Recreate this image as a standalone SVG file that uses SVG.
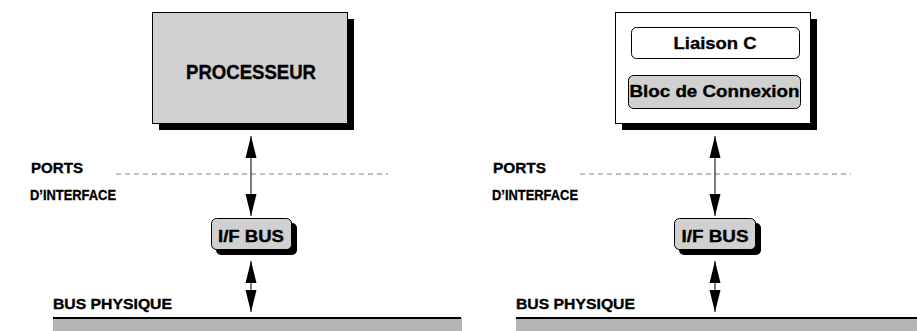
<svg xmlns="http://www.w3.org/2000/svg" width="917" height="331" viewBox="0 0 917 331">
<style>
text{font-family:"Liberation Sans",Arial,sans-serif;font-weight:bold;fill:#000;stroke:#000;stroke-width:0.35}
.box{stroke:#000;stroke-width:1}
.shadow{fill:#000}
.gray{fill:#d0d0d0}
.dash{stroke:#808080;stroke-width:1;stroke-dasharray:5 4;fill:none}
.arrow{stroke:#000;stroke-width:1;fill:none}
.bar{fill:#b4b4b4}
</style>
<defs>
<marker id="ah" viewBox="0 0 22 12" refX="22" refY="6" markerWidth="22" markerHeight="12" markerUnits="userSpaceOnUse" orient="auto-start-reverse">
<path d="M0,0.5 L22,6 L0,11.5 Z" fill="#000"/>
</marker>
</defs>

<g id="left-processeur">
<rect class="shadow" x="159" y="19" width="195" height="111"/>
<rect class="box gray" x="152.5" y="12.5" width="195" height="111"/>
<text x="251" y="78.5" font-size="19.5" text-anchor="middle" textLength="130" lengthAdjust="spacingAndGlyphs">PROCESSEUR</text>
</g>

<g id="left-labels">
<text x="31" y="173" font-size="15.5" textLength="52" lengthAdjust="spacingAndGlyphs">PORTS</text>
<text x="30" y="200" font-size="15.5" textLength="86" lengthAdjust="spacingAndGlyphs">D’INTERFACE</text>
<text x="53" y="309" font-size="15" textLength="119" lengthAdjust="spacingAndGlyphs">BUS PHYSIQUE</text>
</g>

<g id="left-ifbus">
<rect class="shadow" x="216" y="223" width="81" height="32" rx="5"/>
<rect class="box gray" x="211.5" y="218.5" width="80" height="31" rx="5"/>
<text x="251" y="242" font-size="16" text-anchor="middle" textLength="66" lengthAdjust="spacingAndGlyphs">I/F BUS</text>
</g>

<g id="left-bus">
<rect class="bar" x="53" y="318" width="409" height="13"/>
<line x1="53" y1="318" x2="461" y2="318" stroke="#000" stroke-width="2"/>
</g>

<g id="right-block">
<rect class="shadow" x="622" y="19" width="195" height="111"/>
<rect class="box" x="615.5" y="12.5" width="195" height="111" fill="#fff"/>
</g>
<g id="right-liaison">
<rect class="box" x="631.5" y="27.5" width="168" height="31" rx="5" fill="#fff"/>
<text x="715" y="49" font-size="16.5" text-anchor="middle" textLength="83" lengthAdjust="spacingAndGlyphs">Liaison C</text>
</g>
<g id="right-bloc">
<rect class="box gray" x="628.5" y="75.5" width="172" height="33" rx="5"/>
<text x="714.5" y="97" font-size="16.5" text-anchor="middle" textLength="170" lengthAdjust="spacingAndGlyphs">Bloc de Connexion</text>
</g>

<g id="right-labels">
<text x="493" y="173" font-size="15.5" textLength="53" lengthAdjust="spacingAndGlyphs">PORTS</text>
<text x="492" y="200" font-size="15.5" textLength="86" lengthAdjust="spacingAndGlyphs">D’INTERFACE</text>
<text x="516" y="309" font-size="15" textLength="119" lengthAdjust="spacingAndGlyphs">BUS PHYSIQUE</text>
</g>

<g id="right-ifbus">
<rect class="shadow" x="679" y="223" width="82" height="32" rx="5"/>
<rect class="box gray" x="674.5" y="218.5" width="81" height="31" rx="5"/>
<text x="715" y="242" font-size="16" text-anchor="middle" textLength="67" lengthAdjust="spacingAndGlyphs">I/F BUS</text>
</g>

<g id="right-bus">
<rect class="bar" x="516" y="318" width="401" height="13"/>
<line x1="516" y1="318" x2="917" y2="318" stroke="#000" stroke-width="2"/>
</g>

<g id="connectors">
<line class="dash" x1="116" y1="174" x2="388" y2="174"/>
<line class="dash" x1="580" y1="174" x2="851" y2="174"/>
<line class="arrow" x1="251" y1="136" x2="251" y2="216" marker-start="url(#ah)" marker-end="url(#ah)"/>
<line class="arrow" x1="251" y1="261" x2="251" y2="312" marker-start="url(#ah)" marker-end="url(#ah)"/>
<line class="arrow" x1="715" y1="136" x2="715" y2="216" marker-start="url(#ah)" marker-end="url(#ah)"/>
<line class="arrow" x1="715" y1="261" x2="715" y2="312" marker-start="url(#ah)" marker-end="url(#ah)"/>
</g>
</svg>
